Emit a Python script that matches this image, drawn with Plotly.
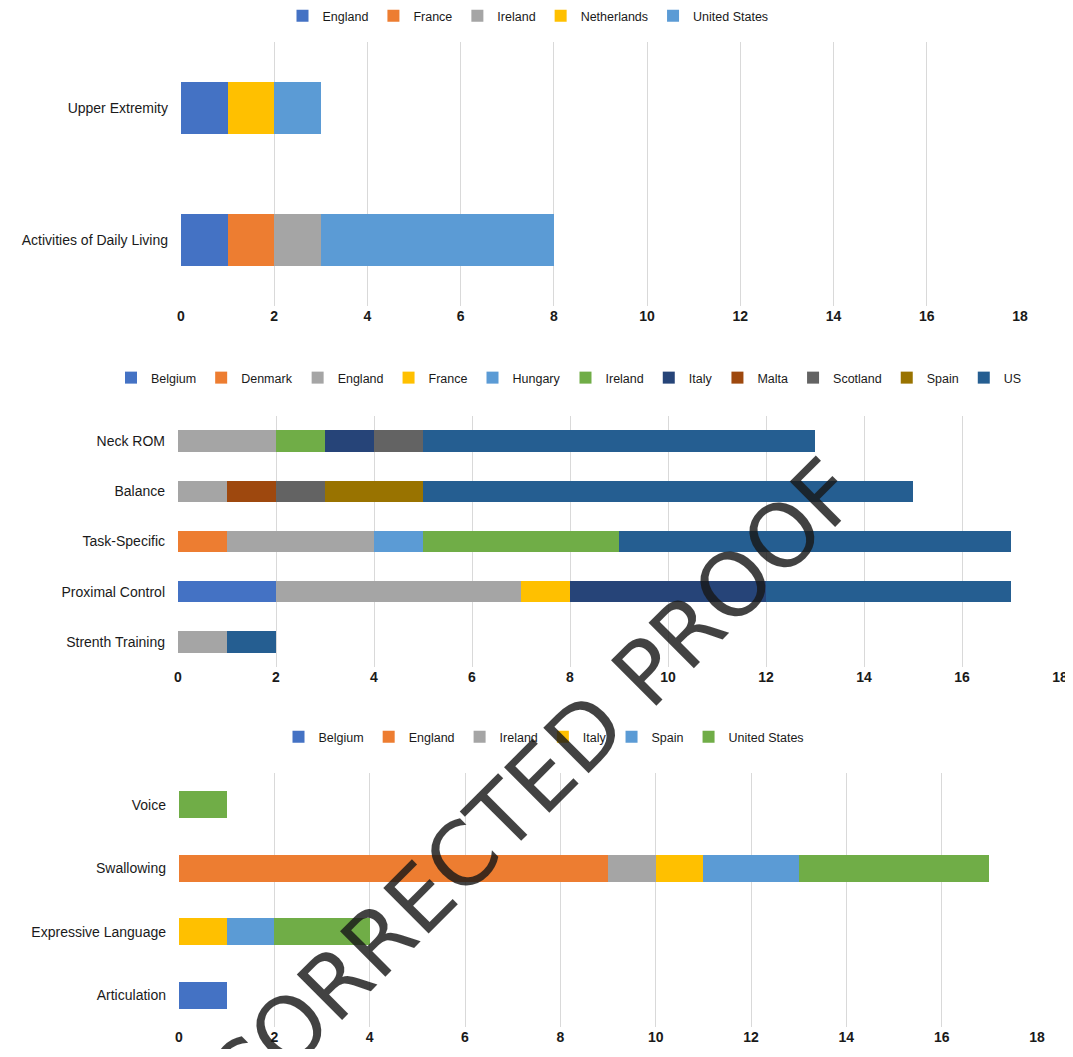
import plotly.graph_objects as go

# ---------------- data ----------------
p1_categories = ["Activities of Daily Living", "Upper Extremity"]
p1_countries = ["England", "France", "Ireland", "Netherlands", "United States"]
p1_values = {
    "England": [1, 1],
    "France": [1, 0],
    "Ireland": [1, 0],
    "Netherlands": [0, 1],
    "United States": [5, 1],
}

p2_categories = ["Strenth Training", "Proximal Control", "Task-Specific", "Balance", "Neck ROM"]
p2_countries = ["Belgium", "Denmark", "England", "France", "Hungary", "Ireland",
                "Italy", "Malta", "Scotland", "Spain", "US"]
p2_values = {
    "Belgium": [0, 2, 0, 0, 0],
    "Denmark": [0, 0, 1, 0, 0],
    "England": [1, 5, 3, 1, 2],
    "France": [0, 1, 0, 0, 0],
    "Hungary": [0, 0, 1, 0, 0],
    "Ireland": [0, 0, 4, 0, 1],
    "Italy": [0, 4, 0, 0, 1],
    "Malta": [0, 0, 0, 1, 0],
    "Scotland": [0, 0, 0, 1, 1],
    "Spain": [0, 0, 0, 2, 0],
    "US": [1, 5, 8, 10, 8],
}

p3_categories = ["Articulation", "Expressive Language", "Swallowing", "Voice"]
p3_countries = ["Belgium", "England", "Ireland", "Italy", "Spain", "United States"]
p3_values = {
    "Belgium": [1, 0, 0, 0],
    "England": [0, 0, 9, 0],
    "Ireland": [0, 0, 1, 0],
    "Italy": [0, 1, 1, 0],
    "Spain": [0, 1, 2, 0],
    "United States": [0, 2, 4, 1],
}

x_ticks = [0, 2, 4, 6, 8, 10, 12, 14, 16, 18]

# ---------------- styles ----------------
palette = ["#4472C4", "#ED7D31", "#A5A5A5", "#FFC000", "#5B9BD5", "#70AD47",
           "#264478", "#9E480E", "#636363", "#997300", "#255E91"]

OFF = 8  # page body margin
W, H = 1073 - OFF, 1057 - 2 * OFF
FONT = "Liberation Sans, Arial, sans-serif"

fig = go.Figure()

panels = [
    (p1_categories, p1_countries, p1_values, "x", "y", "legend", 0.40),
    (p2_categories, p2_countries, p2_values, "x2", "y2", "legend2", 0.43),
    (p3_categories, p3_countries, p3_values, "x3", "y3", "legend3", 0.42),
]

for cats, countries, vals, xa, ya, lg, bw in panels:
    for i, c in enumerate(countries):
        fig.add_trace(go.Bar(
            y=cats, x=vals[c], name=c, orientation="h",
            xaxis=xa, yaxis=ya, legend=lg, width=bw,
            marker=dict(color=palette[i], line=dict(width=0)),
        ))


def px_x(v):
    return (v - OFF) / W


def px_y(v):
    return 1 - (v - OFF) / H


x_domains = [(181, 1020), (178, 1060), (179, 1037)]
y_domains = [(42, 306), (416, 667), (773, 1027)]

axis_common_x = dict(
    range=[0, 18], tickvals=x_ticks, showgrid=True, gridcolor="#D9D9D9", gridwidth=1,
    zeroline=False, showline=False, ticks="", automargin=False,
    tickfont=dict(family=FONT, size=14, color="#1a1a1a", weight="bold"),
    fixedrange=True,
)
axis_common_y = dict(
    type="category", showgrid=False, zeroline=False, showline=False, ticks="",
    ticklabelstandoff=12, automargin=False,
    tickfont=dict(family=FONT, size=14, color="#1a1a1a"),
    fixedrange=True,
)

layout_axes = {}
for k in range(3):
    sx = "" if k == 0 else str(k + 1)
    layout_axes["xaxis" + sx] = dict(
        axis_common_x,
        domain=[px_x(x_domains[k][0]), px_x(x_domains[k][1])],
        anchor="y" + sx,
    )
    layout_axes["yaxis" + sx] = dict(
        axis_common_y,
        domain=[px_y(y_domains[k][1]), px_y(y_domains[k][0])],
        anchor="x" + sx,
    )

legend_common = dict(
    orientation="h", xanchor="center", yanchor="middle", traceorder="normal",
    font=dict(family=FONT, size=12.5, color="#1a1a1a"),
    bgcolor="rgba(0,0,0,0)", itemwidth=30, tracegroupgap=0,
)

fig.update_layout(
    width=W, height=H,
    margin=dict(l=0, r=0, t=0, b=0, autoexpand=False),
    paper_bgcolor="white", plot_bgcolor="white",
    barmode="stack",
    showlegend=True,
    legend=dict(legend_common, x=px_x(528), y=px_y(16)),
    legend2=dict(legend_common, x=px_x(569), y=px_y(378)),
    legend3=dict(legend_common, x=px_x(544), y=px_y(737)),
    **layout_axes,
)

fig.add_annotation(
    text="CORRECTED PROOF", xref="paper", yref="paper",
    x=px_x(532), y=px_y(786), xanchor="center", yanchor="middle",
    showarrow=False, textangle=-45,
    font=dict(family="DejaVu Sans, sans-serif", size=88, color="rgba(25,25,25,0.82)"),
)

fig.write_html("out.html")
